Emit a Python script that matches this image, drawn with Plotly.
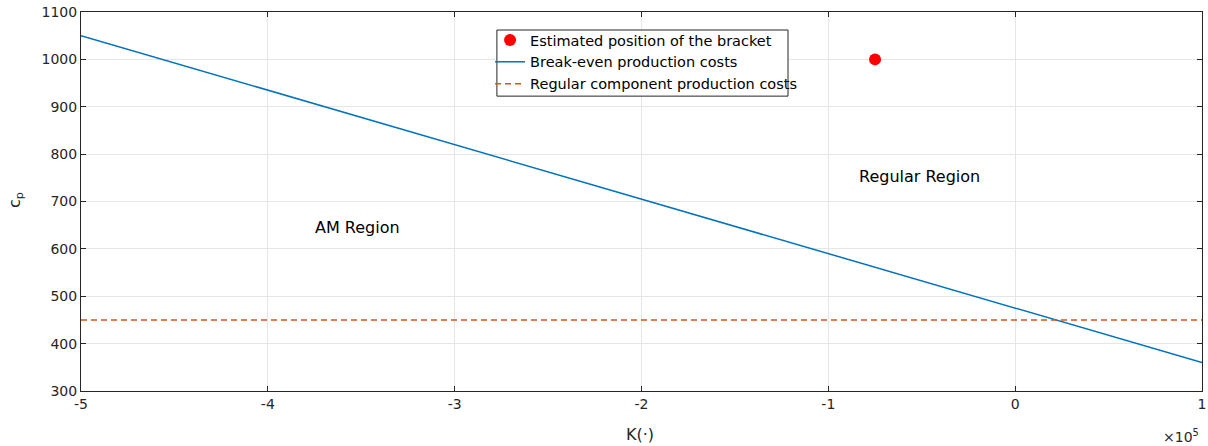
import plotly.graph_objects as go

# Data
k_line = [-5e5, 1e5]
cp_break_even = [1050, 360]
k_regular = [-5e5, 1e5]
cp_regular = [450, 450]
k_bracket = [-0.75e5]
cp_bracket = [1000]
x_tickvals = [-5e5, -4e5, -3e5, -2e5, -1e5, 0, 1e5]
x_ticktext = ["-5", "-4", "-3", "-2", "-1", "0", "1"]
y_tickvals = [300, 400, 500, 600, 700, 800, 900, 1000, 1100]

FONT = "DejaVu Sans, Liberation Sans, Arial, sans-serif"
AX = "#262626"

fig = go.Figure()
fig.add_trace(go.Scatter(x=k_bracket, y=cp_bracket, mode="markers",
                         marker=dict(color="#FF0000", size=12),
                         name="Estimated position of the bracket"))
fig.add_trace(go.Scatter(x=k_line, y=cp_break_even, mode="lines",
                         line=dict(color="#0072BD", width=1.5),
                         name="Break-even production costs"))
fig.add_trace(go.Scatter(x=k_regular, y=cp_regular, mode="lines",
                         line=dict(color="#D95319", width=1.5, dash="6px,4px"),
                         name="Regular component production costs"))

# legend frame (white box with dark border)
fig.add_shape(type="rect", xref="paper", yref="paper",
              x0=0.371, x1=0.6307, y0=0.778, y1=0.9525,
              fillcolor="white", line=dict(color=AX, width=1), layer="above")

fig.add_annotation(x=-3.52e5, y=645, text="AM Region", showarrow=False,
                   font=dict(size=16, color="#000000", family=FONT))
fig.add_annotation(x=-0.51e5, y=752, text="Regular Region", showarrow=False,
                   font=dict(size=16, color="#000000", family=FONT))
fig.add_annotation(x=0.9991, xref="paper", y=-0.119, yref="paper",
                   text="×10<sup>5</sup>", showarrow=False, xanchor="right", yanchor="middle",
                   font=dict(size=14, color=AX, family=FONT))
fig.add_annotation(x=0.499, xref="paper", y=-0.116, yref="paper",
                   text="K(·)", showarrow=False, xanchor="center", yanchor="middle",
                   font=dict(size=16, color=AX, family=FONT))
fig.add_annotation(x=-0.058, xref="paper", y=0.504, yref="paper",
                   text="c<sub>p</sub>", showarrow=False, xanchor="center", yanchor="middle",
                   textangle=-90,
                   font=dict(size=16, color=AX, family=FONT))

axis_common = dict(showline=True, linecolor=AX, linewidth=1, mirror="ticks",
                   ticks="inside", ticklen=5, tickcolor=AX,
                   showgrid=True, gridcolor="#E6E6E6", gridwidth=1,
                   zeroline=False, automargin=False, ticklabeloverflow="allow",
                   tickfont=dict(size=14, color=AX, family=FONT))

fig.update_xaxes(range=[-500000, 100001], tickvals=x_tickvals, ticktext=x_ticktext,
                 **axis_common)
fig.update_yaxes(range=[300, 1100], tickvals=y_tickvals, **axis_common)

fig.update_layout(
    width=1208, height=446,
    margin=dict(l=81, r=6, t=12, b=55),
    plot_bgcolor="white", paper_bgcolor="white",
    font=dict(family=FONT, color=AX),
    showlegend=True,
    legend=dict(x=0.3649, y=0.9683, xanchor="left", yanchor="top",
                bgcolor="rgba(0,0,0,0)", borderwidth=0,
                font=dict(size=14.5, color="#000000", family=FONT),
                tracegroupgap=0, itemwidth=30),
)

fig.write_html("out.html",
               config={"displayModeBar": False},
               post_script="document.body.style.margin='0px';document.body.style.overflow='hidden';")
